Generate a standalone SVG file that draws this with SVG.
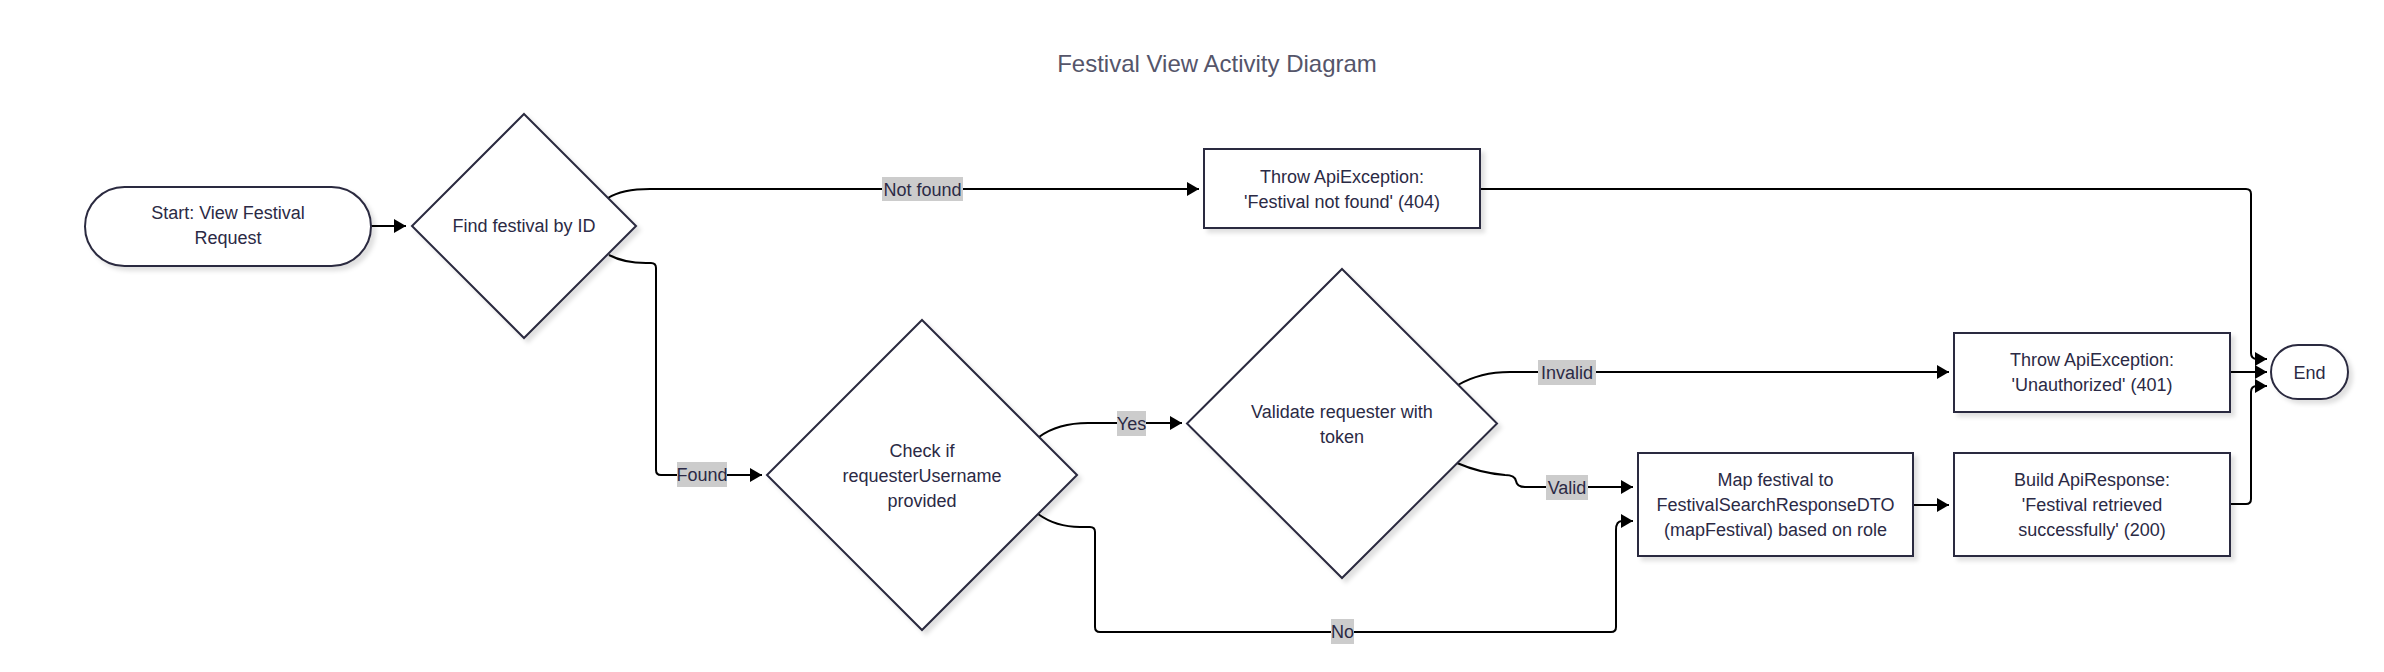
<svg xmlns="http://www.w3.org/2000/svg" width="2384" height="672" viewBox="0 0 2384 672">
<style>
.node{fill:#ffffff;stroke:#2b2a3f;stroke-width:2;filter:url(#sh)}
.t{font-family:"Liberation Sans",Arial,sans-serif;font-size:18px;fill:#2b2a45;text-anchor:middle}
.edge{fill:none;stroke:#000;stroke-width:2;marker-end:url(#arr)}
.lbg{fill:#cccccc}
.lt{font-family:"Liberation Sans",Arial,sans-serif;font-size:18px;fill:#2b2a45;text-anchor:middle}
.title{font-family:"Liberation Sans",Arial,sans-serif;font-size:24px;fill:#55556a;text-anchor:middle}
</style>
<defs>
<filter id="sh" x="-10%" y="-10%" width="130%" height="130%">
<feDropShadow dx="4" dy="4" stdDeviation="2" flood-color="#000" flood-opacity="0.12"/>
</filter>
<marker id="arr" viewBox="0 0 12 14" refX="12" refY="7" markerWidth="12" markerHeight="14" markerUnits="userSpaceOnUse" orient="auto">
<path d="M0,0 L12,7 L0,14 z" fill="#000"/>
</marker>
</defs>
<rect width="2384" height="672" fill="#ffffff"/>
<text class="title" x="1217" y="72">Festival View Activity Diagram</text>

<g id="connectors">
<path class="edge" d="M371,226 L406,226"/>
<path class="edge" d="M608,198 Q622,189 650,189 L1199,189"/>
<path class="edge" d="M609,255 Q624,263 646,263 L651,263 Q656,263 656,268 L656,470 Q656,475 661,475 L762,475"/>
<path class="edge" d="M1039,437 Q1058,423 1088,423 L1182,423"/>
<path class="edge" d="M1038,514 Q1056,527 1080,527 L1090,527 Q1095,527 1095,532 L1095,627 Q1095,632 1100,632 L1611,632 Q1616,632 1616,627 L1616,530 Q1616,521 1622,521 L1633,521"/>
<path class="edge" d="M1458,385 Q1480,372 1510,372 L1949,372"/>
<path class="edge" d="M1457,463 Q1480,473 1505,475 Q1515,475 1516,481 Q1517,487 1525,487 L1633,487"/>
<path class="edge" d="M1480,189 L2246,189 Q2251,189 2251,194 L2251,353 Q2251,359 2257,359 L2267,359"/>
<path class="edge" d="M2230,372 L2267,372"/>
<path class="edge" d="M1913,505 L1949,505"/>
<path class="edge" d="M2230,504 L2246,504 Q2251,504 2251,499 L2251,392 Q2251,386 2257,386 L2267,386"/>
<g id="edge-labels">
<rect class="lbg" x="882" y="177" width="81" height="24"/>
<text class="lt" x="922.5" y="195.5">Not found</text>
<rect class="lbg" x="677" y="462" width="50" height="25"/>
<text class="lt" x="702" y="481">Found</text>
<rect class="lbg" x="1117" y="411" width="29" height="25"/>
<text class="lt" x="1131.5" y="429.5">Yes</text>
<rect class="lbg" x="1331" y="619" width="23" height="25"/>
<text class="lt" x="1342.5" y="638">No</text>
<rect class="lbg" x="1538" y="360" width="58" height="25"/>
<text class="lt" x="1567" y="378.5">Invalid</text>
<rect class="lbg" x="1546" y="475" width="42" height="25"/>
<text class="lt" x="1567" y="493.5">Valid</text>
</g>
</g>

<g id="start">
<rect class="node" x="85" y="187" width="286" height="79" rx="39.5" ry="39.5"/>
<text class="t" x="228" y="219">Start: View Festival</text>
<text class="t" x="228" y="244">Request</text>
</g>
<g id="find">
<polygon class="node" points="524,114 636,226 524,338 412,226"/>
<text class="t" x="524" y="232">Find festival by ID</text>
</g>
<g id="notfound">
<rect class="node" x="1204" y="149" width="276" height="79"/>
<text class="t" x="1342" y="183">Throw ApiException:</text>
<text class="t" x="1342" y="208">'Festival not found' (404)</text>
</g>
<g id="check">
<polygon class="node" points="922,320 1077,475 922,630 767,475"/>
<text class="t" x="922" y="457">Check if</text>
<text class="t" x="922" y="482">requesterUsername</text>
<text class="t" x="922" y="507">provided</text>
</g>
<g id="validate">
<polygon class="node" points="1342,269 1497,423.5 1342,578 1187,423.5"/>
<text class="t" x="1342" y="418">Validate requester with</text>
<text class="t" x="1342" y="443">token</text>
</g>
<g id="unauthorized">
<rect class="node" x="1954" y="333" width="276" height="79"/>
<text class="t" x="2092" y="365.5">Throw ApiException:</text>
<text class="t" x="2092" y="390.5">'Unauthorized' (401)</text>
</g>
<g id="map">
<rect class="node" x="1638" y="453" width="275" height="103"/>
<text class="t" x="1775.5" y="485.5">Map festival to</text>
<text class="t" x="1775.5" y="510.5">FestivalSearchResponseDTO</text>
<text class="t" x="1775.5" y="535.5">(mapFestival) based on role</text>
</g>
<g id="build">
<rect class="node" x="1954" y="453" width="276" height="103"/>
<text class="t" x="2092" y="485.5">Build ApiResponse:</text>
<text class="t" x="2092" y="510.5">'Festival retrieved</text>
<text class="t" x="2092" y="535.5">successfully' (200)</text>
</g>
<g id="end">
<rect class="node" x="2271" y="345" width="77" height="54" rx="27" ry="27"/>
<text class="t" x="2309.5" y="378.5">End</text>
</g>
</svg>
